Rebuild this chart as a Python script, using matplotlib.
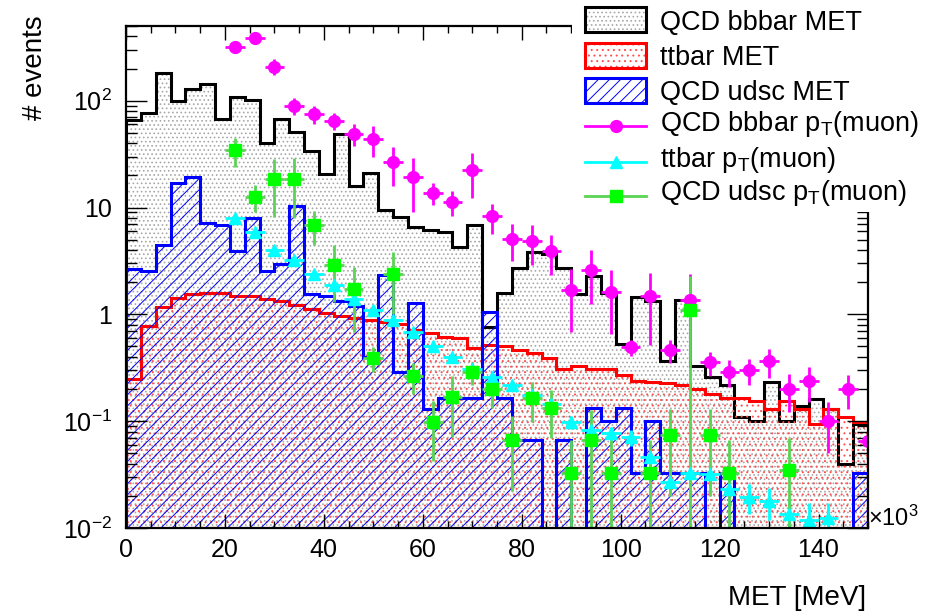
import numpy as np
import matplotlib
matplotlib.use("Agg")
import matplotlib.pyplot as plt
from matplotlib.ticker import FixedLocator, LogLocator, MultipleLocator, NullFormatter
from matplotlib.patches import Rectangle
from matplotlib.lines import Line2D

plt.rcParams["font.family"] = ["Liberation Sans", "DejaVu Sans"]
plt.rcParams["mathtext.fontset"] = "custom"
plt.rcParams["mathtext.rm"] = "Liberation Sans"
plt.rcParams["mathtext.it"] = "Liberation Sans:italic"
plt.rcParams["mathtext.bf"] = "Liberation Sans:bold"
plt.rcParams["hatch.linewidth"] = 0.7

# MET histograms: 50 bins of 3 (x10^3 MeV) from 0 to 150
met_edges = np.arange(0, 153, 3)
qcd_bb_met = [66, 77, 180, 100, 128, 143, 68, 109, 101, 39.8,
              67, 51, 34, 20.4, 49, 16, 21, 9.4, 8.2, 6.6,
              6.1, 5.9, 4.3, 6.8, 0.76, 1.6, 2.7, 3.8, 3.7, 2.7,
              1.56, 2.3, 1.6, 0.53, 1.45, 1.32, 0.365, 1.35, 0.33, 0.26,
              0.22, 0.11, 0.10, 0.235, 0.10, 0.14, 0.16, 0.13, 0.04, 0.095]
ttbar_met = [0.25, 0.78, 1.18, 1.42, 1.56, 1.58, 1.60, 1.47, 1.47, 1.38,
             1.32, 1.21, 1.13, 1.02, 0.96, 0.92, 0.89, 0.85, 0.81, 0.71,
             0.67, 0.62, 0.60, 0.48, 0.52, 0.50, 0.46, 0.43, 0.39, 0.31,
             0.33, 0.31, 0.31, 0.27, 0.24, 0.235, 0.23, 0.22, 0.20, 0.18,
             0.165, 0.165, 0.155, 0.13, 0.155, 0.13, 0.095, 0.13, 0.11, 0.098]
qcd_udsc_met = [2.68, 2.55, 4.5, 17, 19.4, 7.2, 6.8, 3.9, 7.9, 2.55,
                2.94, 10.4, 1.54, 1.5, 1.32, 1.19, 0.40, 2.32, 0.29, 1.29,
                0.13, 0.166, 0.166, 0.166, 1.06, 0.166, 0.066, 0.066, 0, 0.066,
                0, 0.133, 0.10, 0.133, 0.033, 0.10, 0.033, 0.033, 0.033, 0,
                0.033, 0, 0, 0, 0, 0, 0, 0, 0, 0.033]

# muon pT histograms: bins of 4, centres 2..150
pt_centers = np.arange(2, 152, 4)
qcd_bb_pt = [0, 0, 0, 0, 0, 316, 384, 208, 89, 75, 65, 49, 44, 26.4, 19.1, 13.8, 11.3, 22.4,
             8.3, 5.05, 4.87, 3.92, 1.68, 2.62, 1.62, 0.49, 1.47, 0.46, 1.37, 0.357, 0.29,
             0.30, 0.365, 0.20, 0.237, 0.10, 0.20, 0.065]
qcd_bb_pt_err = [0, 0, 0, 0, 0, 25, 30, 35, 16, 15, 11.5, 11.5, 14, 10.5, 10, 3.2, 3, 10,
                 2.6, 1.9, 1.95, 1.6, 1.0, 1.37, 0.97, 0.08, 0.95, 0.11, 1.0, 0.09, 0.08,
                 0.08, 0.11, 0.078, 0.085, 0.05, 0.07, 0.045]
ttbar_pt = [0, 0, 0, 0, 0, 8.06, 5.85, 4.04, 3.26, 2.41, 1.87, 1.40, 1.09, 0.88, 0.68, 0.51,
            0.40, 0.31, 0.26, 0.216, 0.174, 0.145, 0.098, 0.083, 0.077, 0.071, 0.046, 0.027,
            0.033, 0.032, 0.023, 0.0196, 0.0178, 0.0136, 0.012, 0.0123, 0, 0]
ttbar_pt_err = [0, 0, 0, 0, 0, 0.13, 0.11, 0.09, 0.08, 0.07, 0.06, 0.05, 0.045, 0.04, 0.035,
                0.03, 0.028, 0.025, 0.023, 0.02, 0.018, 0.017, 0.014, 0.013, 0.012, 0.012,
                0.01, 0.007, 0.008, 0.008, 0.007, 0.006, 0.006, 0.005, 0.005, 0.005, 0, 0]
qcd_udsc_pt = [0, 0, 0, 0, 0, 34.4, 12.6, 18.4, 18.4, 6.9, 2.9, 1.74, 0.39, 2.4, 0.264, 0.099,
               0.168, 0.29, 0.20, 0.067, 0.166, 0.133, 0.033, 0.067, 0.033, 0, 0.033, 0.075,
               1.09, 0.075, 0.033, 0, 0, 0.035, 0, 0, 0, 0]
qcd_udsc_pt_err = [0, 0, 0, 0, 0, 10.5, 3.5, 10.3, 10.5, 2.4, 1.6, 1.05, 0.1, 1.4, 0.085, 0.057,
                   0.097, 0.07, 0.066, 0.045, 0.067, 0.063, 0.033, 0.06, 0.033, 0, 0.033, 0.055,
                   1.2, 0.055, 0.033, 0, 0, 0.035, 0, 0, 0, 0]

FLOOR = 1e-4
W, H = 934, 616
GREEN_LINE = "#59d454"
GRAY_DOTS = "#a8a8a8"
RED_DOTS = "#ff5050"

fig = plt.figure(figsize=(W / 100, H / 100), dpi=100)
ax = fig.add_axes([126 / W, 1 - 528 / H, (868 - 126) / W, (528 - 26) / H])
ax.set_yscale("log")
ax.set_xlim(0, 150)
ax.set_ylim(0.01, 500)


def draw_hist(vals, color, hatch, hatch_color):
    v = np.asarray(vals, dtype=float)
    v = np.where(v > 0, v, FLOOR)
    x = np.repeat(met_edges, 2)[1:-1]
    y = np.repeat(v, 2)
    ax.fill_between(x, y, FLOOR, facecolor="none", edgecolor=hatch_color,
                    hatch=hatch, linewidth=0)
    ax.stairs(v, met_edges, baseline=FLOOR, color=color, linewidth=2.2)


def draw_points(vals, errs, marker, mcolor, lcolor, ms):
    y = np.asarray(vals, dtype=float)
    e = np.asarray(errs, dtype=float)
    m = y > 0
    lo = np.minimum(e[m], y[m] - FLOOR)
    ax.errorbar(pt_centers[m], y[m], xerr=2, yerr=[lo, e[m]], fmt=marker,
                color=lcolor, mfc=mcolor, mec=mcolor, ms=ms, elinewidth=2,
                capsize=0)


draw_hist(qcd_bb_met, "black", "....", GRAY_DOTS)
draw_hist(ttbar_met, "red", "...", RED_DOTS)
draw_hist(qcd_udsc_met, "blue", "///", "blue")

draw_points(qcd_bb_pt, qcd_bb_pt_err, "o", "magenta", "magenta", 8.5)
draw_points(ttbar_pt, ttbar_pt_err, "^", "cyan", "cyan", 9)
draw_points(qcd_udsc_pt, qcd_udsc_pt_err, "s", "#00ff00", GREEN_LINE, 8)

# axes / ticks in ROOT style
for s in ax.spines.values():
    s.set_linewidth(1.6)
ax.xaxis.set_major_locator(MultipleLocator(20))
ax.xaxis.set_minor_locator(MultipleLocator(5))
ax.yaxis.set_major_locator(FixedLocator([1e-2, 1e-1, 1, 10, 100]))
ax.yaxis.set_minor_locator(LogLocator(base=10, subs=np.arange(2, 10)))
ax.yaxis.set_minor_formatter(NullFormatter())
ax.set_yticklabels(["10$^{-2}$", "10$^{-1}$", "1", "10", "10$^{2}$"])
ax.tick_params(which="both", direction="in", top=True, right=True, labelsize=18)
ax.tick_params(axis="x", which="major", length=10, width=1, pad=7)
ax.tick_params(axis="x", which="minor", length=5, width=1)
ax.tick_params(axis="y", which="major", length=15, width=1, pad=10)
ax.tick_params(axis="y", which="minor", length=8, width=1)

fig.text(866 / W, 1 - 598 / H, "MET [MeV]", ha="right", va="center", fontsize=20)
fig.text(35 / W, 1 - 15 / H, "# events", ha="center", va="top", rotation=90, fontsize=20)
fig.text(868 / W, 1 - 518 / H, r"$\times$10$^{3}$", ha="left", va="center", fontsize=17)

# legend drawn in pixel coordinates on top of the frame
lax = fig.add_axes([572 / W, 1 - 212 / H, (W - 572) / W, 212 / H])
lax.set_xlim(572, W)
lax.set_ylim(212, 0)
lax.set_xticks([])
lax.set_yticks([])
for s in lax.spines.values():
    s.set_visible(False)
lax.set_facecolor("white")

boxes = [("QCD bbbar MET", "black", "....", GRAY_DOTS, 7, 30),
         ("ttbar MET", "red", "...", RED_DOTS, 43, 65),
         ("QCD udsc MET", "blue", "///", "blue", 78, 100)]
for label, col, hatch, hcol, y0, base in boxes:
    lax.add_patch(Rectangle((585, y0), 61, 25, facecolor="none", edgecolor=hcol,
                            hatch=hatch, linewidth=0))
    lax.add_patch(Rectangle((585, y0), 61, 25, facecolor="none", edgecolor=col,
                            linewidth=2.2))
    lax.text(660, base, label, ha="left", va="baseline", fontsize=19.5)

lines = [(r"QCD bbbar p$_\mathrm{T}$(muon)", "magenta", "magenta", "o", 8.5, 126, 131),
         (r"ttbar p$_\mathrm{T}$(muon)", "cyan", "cyan", "^", 9, 162, 167),
         (r"QCD udsc p$_\mathrm{T}$(muon)", GREEN_LINE, "#00ff00", "s", 8, 196, 200)]
for label, lcol, mcol, mk, ms, ym, base in lines:
    lax.add_line(Line2D([585, 646], [ym, ym], color=lcol, linewidth=2))
    lax.add_line(Line2D([615.5], [ym], marker=mk, color=mcol, ms=ms, linestyle="none"))
    lax.text(660, base, label, ha="left", va="baseline", fontsize=19.5)

fig.savefig("out.png", dpi=100)
